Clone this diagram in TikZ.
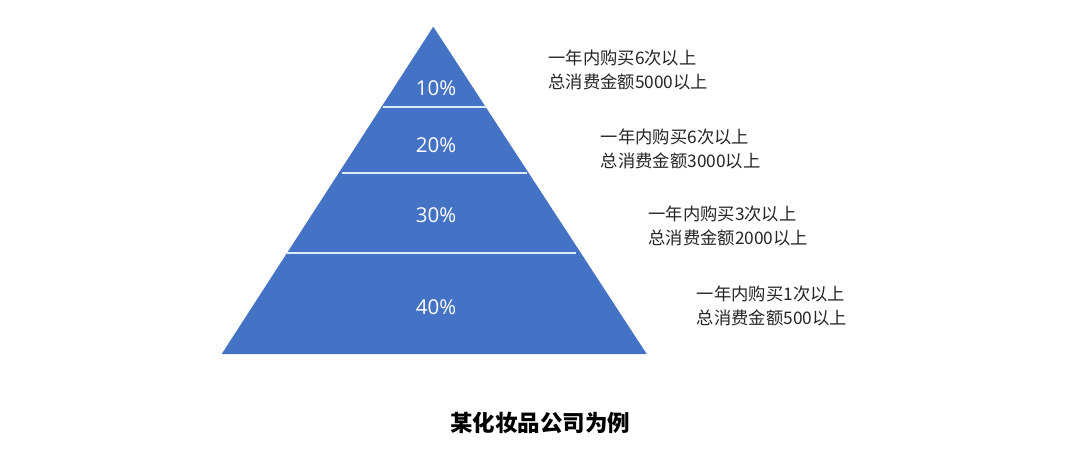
\documentclass[tikz,border=0pt]{standalone}
\usepackage{fontspec}
\newfontfamily\cjk{Noto Sans CJK SC}
\newfontfamily\pctfont{Open Sans}
\definecolor{pyrblue}{HTML}{4472C4}
\definecolor{divline}{HTML}{DDEBF7}
\definecolor{txtgray}{HTML}{262626}
\begin{document}
\begin{tikzpicture}[x=1pt,y=-1pt,
  pct/.style={text=white,font=\pctfont\fontsize{20.5}{24}\selectfont,inner sep=0pt},
  cond/.style={text=txtgray,font=\cjk\fontsize{17.3}{24}\selectfont,align=left,anchor=west,inner sep=0pt},
  divider/.style={draw=divline,line width=2.2pt},
  title/.style={text=black,font=\cjk\bfseries\fontsize{22.5}{24}\selectfont,inner sep=0pt}]
\useasboundingbox[fill=white] (0,0) rectangle (1080,451);
% pyramid
\coordinate (apex) at (433.3,26.7);
\coordinate (bl) at (221.7,354);
\coordinate (br) at (646.7,354);
\fill[pyrblue] (apex) -- (br) -- (bl) -- cycle;
% dividers
\coordinate (d1l) at (383,107.3);  \coordinate (d1r) at (485.7,107.3);
\coordinate (d2l) at (341.7,173.3); \coordinate (d2r) at (526.7,173.3);
\coordinate (d3l) at (287,252.7);  \coordinate (d3r) at (575.7,252.7);
\draw[divider] (d1l) -- (d1r);
\draw[divider] (d2l) -- (d2r);
\draw[divider] (d3l) -- (d3r);
% percentages
\node[pct] (p10) at (436,88.3) {10\%};
\node[pct] (p20) at (436,145) {20\%};
\node[pct] (p30) at (436,215) {30\%};
\node[pct] (p40) at (436,306.7) {40\%};
% conditions
\node[cond] (c1) at (548.3,70) {一年内购买6次以上\\总消费金额5000以上};
\node[cond] (c2) at (600.7,149.2) {一年内购买6次以上\\总消费金额3000以上};
\node[cond] (c3) at (648.3,225.5) {一年内购买3次以上\\总消费金额2000以上};
\node[cond] (c4) at (696.7,305.5) {一年内购买1次以上\\总消费金额500以上};
% title
\node[title] (t) at (540,423.3) {某化妆品公司为例};
\end{tikzpicture}
\end{document}
